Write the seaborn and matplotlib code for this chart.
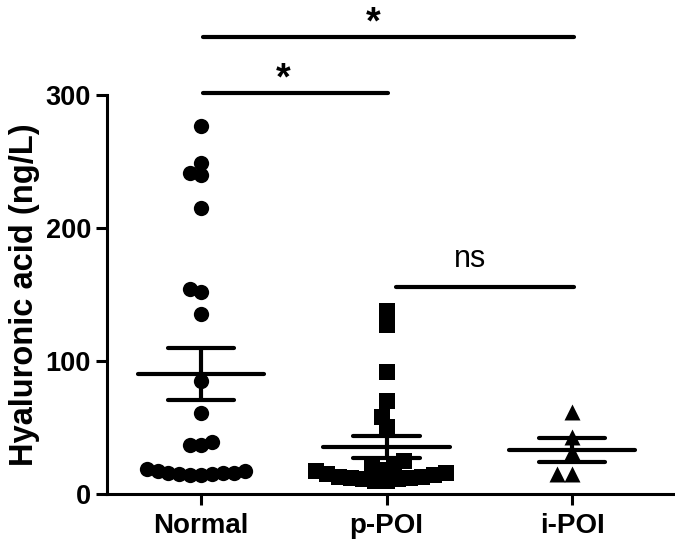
import numpy as np
import pandas as pd
import matplotlib
matplotlib.use("Agg")
import matplotlib.pyplot as plt
import seaborn as sns

# ---------------- data ----------------
groups = ["Normal", "p-POI", "i-POI"]
normal_vals = [277, 249, 241, 240, 215, 154, 152, 135, 85, 61, 39, 37, 37,
               16, 15, 17, 14, 16, 19, 15, 17, 14, 16]
ppoi_vals = [137.5, 127, 91.5, 70, 58, 50,
             25, 22, 20, 18, 17, 16, 15, 14, 13, 12, 12, 11, 11, 10, 10, 13]
ipoi_vals = [61.5, 43, 31.5, 15, 15]
group_markers = ["o", "s", "^"]
y_ticks = [0, 100, 200, 300]
y_label = "Hyaluronic acid (ng/L)"
# comparisons: (group a, group b, label)
comparisons = [(0, 2, "*"), (0, 1, "*"), (1, 2, "ns")]

# ---------------- layout / style ----------------
W, H, DPI = 675, 549, 100
sns.set_style("ticks")
plt.rcParams["font.family"] = ["Liberation Sans", "DejaVu Sans"]
for k in ["text.color", "axes.labelcolor", "xtick.color", "ytick.color",
          "axes.edgecolor"]:
    plt.rcParams[k] = "black"

fig = plt.figure(figsize=(W / DPI, H / DPI), dpi=DPI)
ax = fig.add_axes([107 / W, 55 / H, (W - 107) / W, 494 / H])

df = pd.concat([
    pd.DataFrame({"group": g, "value": v})
    for g, v in zip(groups, [normal_vals, ppoi_vals, ipoi_vals])
], ignore_index=True)

layout_sizes = [7.5, 8.2, 10.0]
draw_sizes = {"o": 11.0, "s": 11.0, "^": 11.5}
coll_marker = []
for g, m, ls in zip(groups, group_markers, layout_sizes):
    n0 = len(ax.collections)
    sns.swarmplot(data=df[df["group"] == g], x="group", y="value", order=groups,
                  marker=m, color="black", size=ls, linewidth=0, ax=ax,
                  warn_thresh=1.0)
    coll_marker += [(c, m) for c in ax.collections[n0:]]

ax.set_xlim(-0.507, 2.555)
ax.set_ylim(0, 371.4)

# compute swarm layout at layout size, then enlarge markers so they overlap
fig.canvas.draw()
for coll, m in coll_marker:
    if "draw" in coll.__dict__:
        del coll.draw
    coll.set_sizes([draw_sizes[m] ** 2])

# mean +/- SEM
lw = 3.0
for i, g in enumerate(groups):
    v = np.asarray(df.loc[df["group"] == g, "value"], dtype=float)
    mean = v.mean()
    sem = v.std(ddof=1) / np.sqrt(len(v))
    kw = dict(color="black", lw=lw, solid_capstyle="round", zorder=5)
    ax.plot([i - 0.34, i + 0.34], [mean, mean], **kw)
    ax.plot([i - 0.18, i + 0.18], [mean + sem, mean + sem], **kw)
    ax.plot([i - 0.18, i + 0.18], [mean - sem, mean - sem], **kw)
    ax.plot([i, i], [mean - sem, mean + sem], **kw)

# significance bars
bar_y = [343.6, 301.5, 155.6]
bar_x = [(0.01, 2.01), (0.01, 1.01), (1.05, 2.01)]
lab_x = [0.93, 0.44, 1.45]
for (a, b, lab), y, (x0, x1), lx in zip(comparisons, bar_y, bar_x, lab_x):
    ax.plot([x0, x1], [y, y], color="black", lw=3.0, solid_capstyle="round")
    if lab == "*":
        ax.text(lx, y - 3.5, lab, ha="center", va="bottom", fontsize=27,
                fontweight="bold")
    else:
        ax.text(lx, y + 10, lab, ha="center", va="bottom", fontsize=22)

# axes styling
sns.despine(ax=ax)
ax.spines["left"].set_bounds(0, 300)
for s in ["left", "bottom"]:
    ax.spines[s].set_linewidth(2.2)
ax.set_yticks(y_ticks)
ax.set_xticks(range(len(groups)))
ax.set_xticklabels(groups)
ax.tick_params(width=2.2, length=8, labelsize=19.5)
for t in ax.get_xticklabels() + ax.get_yticklabels():
    t.set_fontweight("bold")
ax.tick_params(axis="x", labelsize=20, pad=6)
ax.set_xlabel("")
ax.set_ylabel(y_label, fontsize=23.5, fontweight="bold")
ax.yaxis.set_label_coords(-0.118, 0.403)

fig.savefig("out.png", dpi=DPI)
